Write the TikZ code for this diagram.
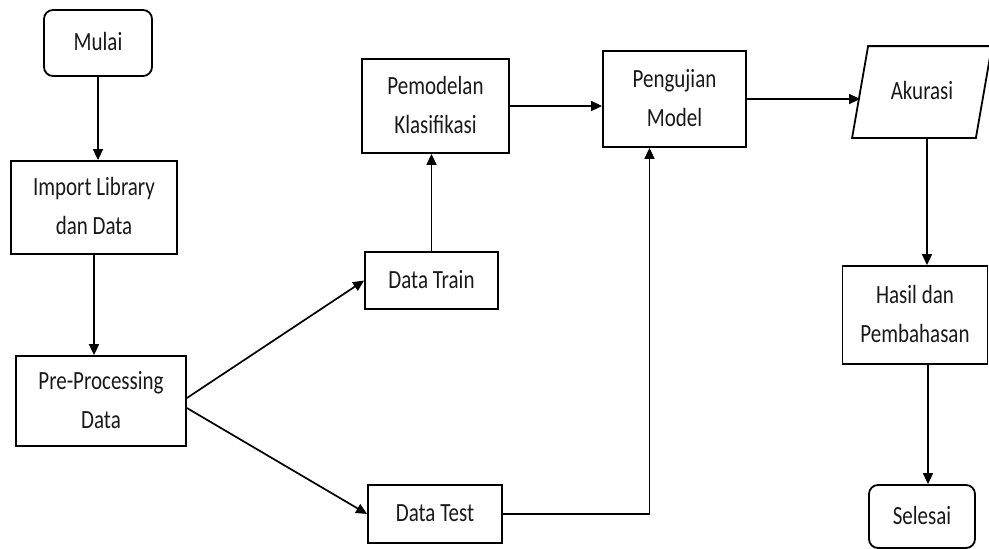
\documentclass[tikz,border=0pt]{standalone}
\usepackage{fontspec}
\setmainfont{Carlito}
\usepackage{graphicx}
\usetikzlibrary{arrows.meta,calc}
\newcommand{\tx}[1]{\scalebox{1}[1.25]{\begin{tabular}{@{}c@{}}#1\end{tabular}}}
\begin{document}
\begin{tikzpicture}[x=1pt,y=-1pt,
  box/.style={draw,line width=1.8pt,inner sep=0pt,text=black!90,font=\fontsize{21}{31}\selectfont},
  term/.style={box,rounded corners=9pt},
  arr/.style={line width=1.7pt,-{Triangle[length=11pt,width=10pt]}},
  ln/.style={line width=1.8pt}]
\useasboundingbox (0,0) rectangle (989,549);
\node[term,minimum width=108pt,minimum height=66pt] (mulai) at (98,43) {\tx{Mulai}};
\node[box,minimum width=166pt,minimum height=93pt] (import) at (94,207.5) {\tx{Import Library\\dan Data}};
\node[box,minimum width=170pt,minimum height=90pt] (prep) at (101,401) {\tx{Pre-Processing\\Data}};
\node[box,minimum width=133pt,minimum height=57pt] (train) at (431.5,280.5) {\tx{Data Train}};
\node[box,minimum width=134pt,minimum height=58pt] (test) at (435,514) {\tx{Data Test}};
\node[box,minimum width=147pt,minimum height=94pt] (model) at (435.5,106) {\tx{Pemodelan\\Klasifikasi}};
\node[box,minimum width=143pt,minimum height=96pt] (uji) at (674.5,99) {\tx{Pengujian\\Model}};
\node[box,draw=none,minimum width=122pt,minimum height=90pt] (akurasi) at (922,92) {\tx{Akurasi}};
\draw[ln] ($(akurasi.south west)+(-8,0)$) -- ($(akurasi.south east)+(-8,0)$) -- ($(akurasi.north east)+(8,0)$) -- ($(akurasi.north west)+(8,0)$) -- cycle;
\node[box,minimum width=145pt,minimum height=98pt] (hasil) at (915,315) {\tx{Hasil dan\\Pembahasan}};
\node[term,minimum width=106pt,minimum height=63pt] (selesai) at (922,516.5) {\tx{Selesai}};

\draw[arr] (mulai.south) -- (mulai.south |- import.north);
\draw[arr] (import.south) -- (import.south |- prep.north);
\draw[arr] ($(prep.east)+(0,-3)$) -- (train.west);
\draw[arr] ($(prep.east)+(0,7)$) -- (test.west);
\draw[arr] (train.north) -- (train.north |- model.south);
\draw[arr] (model.east) -- (model.east -| uji.west);
\coordinate (tu) at ($(uji.south)+(-25,0)$);
\draw[arr] (test.east) -| (tu);
\draw[arr] (uji.east) -- (uji.east -| akurasi.west);
\coordinate (ak) at ($(akurasi.south)+(5,0)$);
\draw[arr] (ak) -- (ak |- hasil.north);
\coordinate (hs) at ($(selesai.north)+(6,0)$);
\draw[arr] (hs |- hasil.south) -- (hs);
\end{tikzpicture}
\end{document}
